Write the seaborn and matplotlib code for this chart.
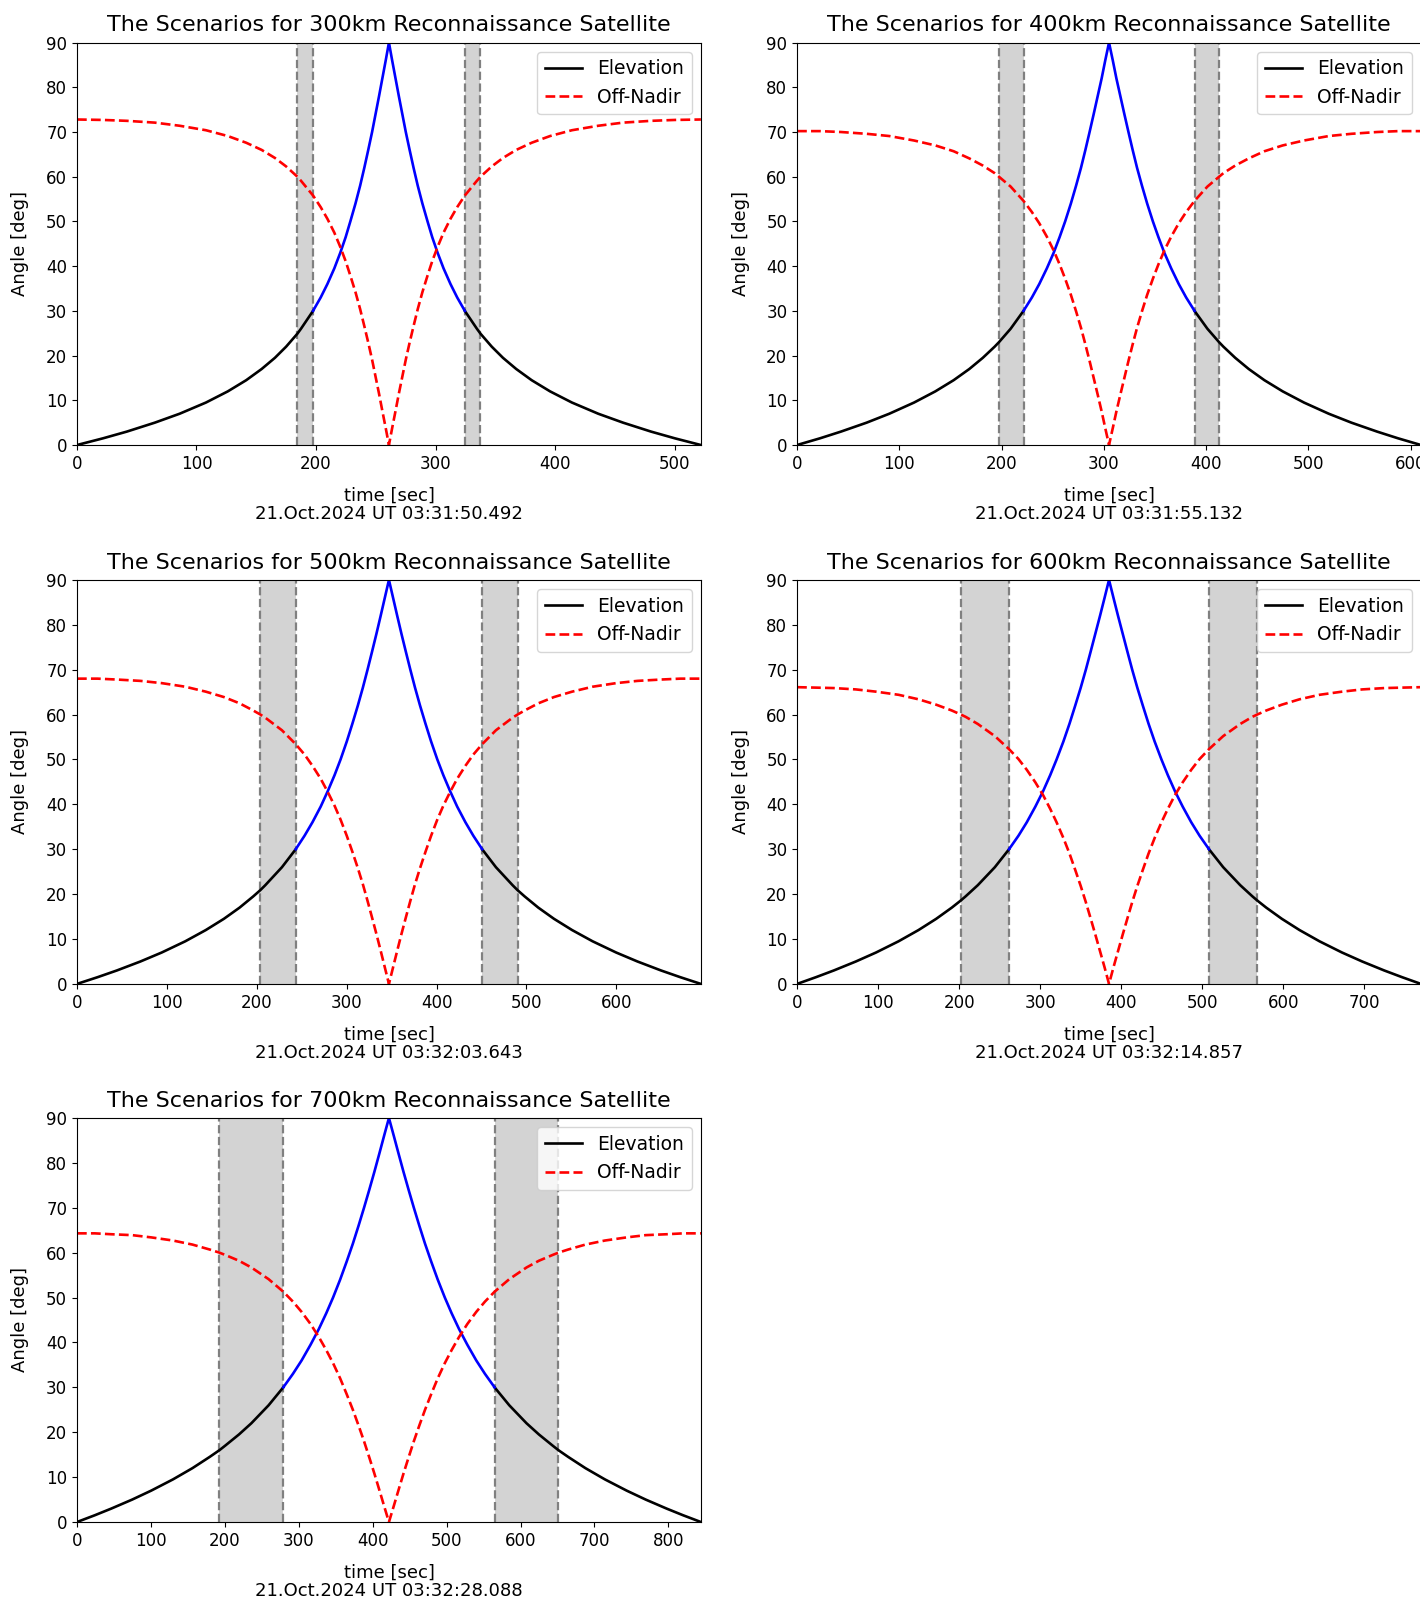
import numpy as np
import matplotlib
matplotlib.use("Agg")
import matplotlib.pyplot as plt
import seaborn as sns

# values (time [s], angle [deg])
altitudes = [300, 400, 500, 600, 700]
stamps = ["21.Oct.2024 UT 03:31:50.492", "21.Oct.2024 UT 03:31:55.132",
          "21.Oct.2024 UT 03:32:03.643", "21.Oct.2024 UT 03:32:14.857",
          "21.Oct.2024 UT 03:32:28.088"]

time_300 = [0, 21.8, 41.7, 65.1, 85.9, 107.9, 126.2, 141.6, 154.5, 165.6, 175.0, 184.4, 187.4, 197.5, 203.9,
            209.5, 215.3, 220.3, 224.8, 228.7, 233.0, 236.9, 240.4, 243.7, 246.9, 249.8, 252.7, 255.5, 258.3, 261,
            263.7, 266.5, 269.3, 272.2, 275.1, 278.3, 281.6, 285.1, 289.0, 293.3, 297.2, 301.7, 306.7, 312.5,
            318.1, 324.5, 334.6, 337.6, 347.0, 356.4, 367.5, 380.4, 395.8, 414.1, 436.1, 456.9, 480.3, 500.2, 522]
elev_300 = [0, 1.5, 3, 5, 7, 9.5, 12, 14.5, 17, 19.5, 22, 24.9, 26, 30, 33, 36, 39.5, 43, 46.5, 50, 54, 58, 62,
            66, 70, 74, 78, 82, 86, 90,
            86, 82, 78, 74, 70, 66, 62, 58, 54, 50, 46.5, 43, 39.5, 36, 33, 30, 26, 24.9, 22, 19.5, 17, 14.5, 12,
            9.5, 7, 5, 3, 1.5, 0]
offn_300 = [72.8, 72.7, 72.5, 72.1, 71.4, 70.4, 69.1, 67.6, 66.0, 64.2, 62.3, 60.0, 59.1, 55.8, 53.2, 50.6, 47.5,
            44.3, 41.1, 37.9, 34.2, 30.4, 26.6, 22.9, 19.1, 15.3, 11.5, 7.6, 3.8, 0,
            3.8, 7.6, 11.5, 15.3, 19.1, 22.9, 26.6, 30.4, 34.2, 37.9, 41.1, 44.3, 47.5, 50.6, 53.2, 55.8, 59.1,
            60.0, 62.3, 64.2, 66.0, 67.6, 69.1, 70.4, 71.4, 72.1, 72.5, 72.7, 72.8]
spans_300 = [(184.4, 197.5), (324.5, 337.6)]

time_400 = [0, 22.4, 42.9, 68.0, 90.2, 114.4, 135.2, 153.1, 168.4, 181.6, 193.2, 197.4, 208.8, 221.4, 229.6,
            236.8, 244.2, 250.9, 256.7, 262.1, 267.7, 272.8, 277.6, 281.9, 286.0, 290.0, 293.9, 297.8, 301.3, 305,
            308.7, 312.2, 316.1, 320.0, 324.0, 328.1, 332.4, 337.2, 342.3, 347.9, 353.3, 359.1, 365.8, 373.2,
            380.4, 388.6, 401.2, 412.6, 416.8, 428.4, 441.6, 456.9, 474.8, 495.6, 519.8, 542.0, 567.1, 587.6, 610]
elev_400 = [0, 1.5, 3, 5, 7, 9.5, 12, 14.5, 17, 19.5, 22, 23.0, 26, 30, 33, 36, 39.5, 43, 46.5, 50, 54, 58, 62,
            66, 70, 74, 78, 82, 86, 90,
            86, 82, 78, 74, 70, 66, 62, 58, 54, 50, 46.5, 43, 39.5, 36, 33, 30, 26, 23.0, 22, 19.5, 17, 14.5, 12,
            9.5, 7, 5, 3, 1.5, 0]
offn_400 = [70.2, 70.2, 70.0, 69.6, 69.1, 68.1, 67.0, 65.7, 64.1, 62.5, 60.8, 60.0, 57.8, 54.6, 52.1, 49.6, 46.6,
            43.5, 40.4, 37.2, 33.6, 29.9, 26.2, 22.5, 18.8, 15.0, 11.3, 7.5, 3.8, 0,
            3.8, 7.5, 11.3, 15.0, 18.8, 22.5, 26.2, 29.9, 33.6, 37.2, 40.4, 43.5, 46.6, 49.6, 52.1, 54.6, 57.8,
            60.0, 60.8, 62.5, 64.1, 65.7, 67.0, 68.1, 69.1, 69.6, 70.0, 70.2, 70.2]
spans_400 = [(197.4, 221.4), (388.6, 412.6)]

time_500 = [0, 22.9, 44.4, 70.6, 94.3, 120.5, 143.3, 163.4, 180.9, 196.1, 204.0, 209.5, 228.0, 243.3, 253.1,
            261.9, 271.1, 279.1, 286.5, 293.2, 300.1, 306.4, 312.4, 318.0, 323.2, 328.2, 333.1, 337.8, 342.4, 347,
            351.6, 356.2, 360.9, 365.8, 370.8, 376.0, 381.6, 387.6, 393.9, 400.8, 407.5, 414.9, 422.9, 432.1,
            440.9, 450.7, 466.0, 484.5, 490.0, 497.9, 513.1, 530.6, 550.7, 573.5, 599.7, 623.4, 649.6, 671.1, 694]
elev_500 = [0, 1.5, 3, 5, 7, 9.5, 12, 14.5, 17, 19.5, 20.9, 22, 26, 30, 33, 36, 39.5, 43, 46.5, 50, 54, 58, 62,
            66, 70, 74, 78, 82, 86, 90,
            86, 82, 78, 74, 70, 66, 62, 58, 54, 50, 46.5, 43, 39.5, 36, 33, 30, 26, 22, 20.9, 19.5, 17, 14.5, 12,
            9.5, 7, 5, 3, 1.5, 0]
offn_500 = [68.0, 68.0, 67.8, 67.5, 67.0, 66.2, 65.1, 63.9, 62.5, 60.9, 60.0, 59.3, 56.5, 53.4, 51.1, 48.6, 45.7,
            42.7, 39.7, 36.6, 33.0, 29.4, 25.8, 22.2, 18.5, 14.8, 11.1, 7.4, 3.7, 0,
            3.7, 7.4, 11.1, 14.8, 18.5, 22.2, 25.8, 29.4, 33.0, 36.6, 39.7, 42.7, 45.7, 48.6, 51.1, 53.4, 56.5,
            59.3, 60.0, 60.9, 62.5, 63.9, 65.1, 66.2, 67.0, 67.5, 67.8, 68.0, 68.0]
spans_500 = [(204.0, 243.3), (450.7, 490.0)]

time_600 = [0, 23.3, 45.4, 72.6, 97.5, 125.3, 149.9, 171.7, 191.0, 202.2, 208.0, 223.1, 244.1, 261.6, 273.2,
            283.5, 294.1, 303.8, 312.4, 320.3, 328.7, 336.3, 343.3, 350.1, 356.4, 362.3, 368.1, 373.9, 379.5, 385,
            390.5, 396.1, 401.9, 407.7, 413.6, 419.9, 426.7, 433.7, 441.3, 449.7, 457.6, 466.2, 475.9, 486.5,
            496.8, 508.4, 525.9, 546.9, 562.0, 567.8, 579.0, 598.3, 620.1, 644.7, 672.5, 697.4, 724.6, 746.7, 770]
elev_600 = [0, 1.5, 3, 5, 7, 9.5, 12, 14.5, 17, 18.6, 19.5, 22, 26, 30, 33, 36, 39.5, 43, 46.5, 50, 54, 58, 62,
            66, 70, 74, 78, 82, 86, 90,
            86, 82, 78, 74, 70, 66, 62, 58, 54, 50, 46.5, 43, 39.5, 36, 33, 30, 26, 22, 19.5, 18.6, 17, 14.5, 12,
            9.5, 7, 5, 3, 1.5, 0]
offn_600 = [66.1, 66.0, 65.9, 65.6, 65.1, 64.4, 63.4, 62.2, 60.9, 60.0, 59.5, 57.9, 55.2, 52.3, 50.1, 47.7, 44.9,
            42.0, 39.0, 36.0, 32.5, 29.0, 25.4, 21.8, 18.2, 14.6, 11.0, 7.3, 3.7, 0,
            3.7, 7.3, 11.0, 14.6, 18.2, 21.8, 25.4, 29.0, 32.5, 36.0, 39.0, 42.0, 44.9, 47.7, 50.1, 52.3, 55.2,
            57.9, 59.5, 60.0, 60.9, 62.2, 63.4, 64.4, 65.1, 65.6, 65.9, 66.0, 66.1]
spans_600 = [(202.2, 261.6), (508.4, 567.8)]

time_700 = [0, 24.0, 46.5, 74.7, 100.5, 129.9, 156.2, 179.5, 192.7, 200.4, 219.1, 235.9, 259.2, 279.1, 292.1,
            303.9, 316.0, 327.2, 337.2, 346.4, 356.0, 364.8, 373.2, 380.9, 388.3, 395.4, 402.3, 408.9, 415.4, 422,
            428.6, 435.1, 441.7, 448.6, 455.7, 463.1, 470.8, 479.2, 488.0, 497.6, 506.8, 516.8, 528.0, 540.1,
            551.9, 564.9, 584.8, 608.1, 624.9, 643.6, 651.3, 664.5, 687.8, 714.1, 743.5, 769.3, 797.5, 820.0, 844]
elev_700 = [0, 1.5, 3, 5, 7, 9.5, 12, 14.5, 16.0, 17, 19.5, 22, 26, 30, 33, 36, 39.5, 43, 46.5, 50, 54, 58, 62,
            66, 70, 74, 78, 82, 86, 90,
            86, 82, 78, 74, 70, 66, 62, 58, 54, 50, 46.5, 43, 39.5, 36, 33, 30, 26, 22, 19.5, 17, 16.0, 14.5, 12,
            9.5, 7, 5, 3, 1.5, 0]
offn_700 = [64.3, 64.3, 64.1, 63.9, 63.4, 62.7, 61.8, 60.7, 60.0, 59.5, 58.2, 56.7, 54.1, 51.3, 49.1, 46.8, 44.1,
            41.2, 38.3, 35.4, 32.0, 28.5, 25.0, 21.5, 18.0, 14.4, 10.8, 7.2, 3.6, 0,
            3.6, 7.2, 10.8, 14.4, 18.0, 21.5, 25.0, 28.5, 32.0, 35.4, 38.3, 41.2, 44.1, 46.8, 49.1, 51.3, 54.1,
            56.7, 58.2, 59.5, 60.0, 60.7, 61.8, 62.7, 63.4, 63.9, 64.1, 64.3, 64.3]
spans_700 = [(192.7, 279.1), (564.9, 651.3)]

panels = [(time_300, elev_300, offn_300, spans_300),
          (time_400, elev_400, offn_400, spans_400),
          (time_500, elev_500, offn_500, spans_500),
          (time_600, elev_600, offn_600, spans_600),
          (time_700, elev_700, offn_700, spans_700)]

# axes boxes in figure fractions (left, bottom, width, height)
boxes = [(0.0542, 0.7241, 0.4394, 0.2495), (0.5613, 0.7241, 0.4394, 0.2495),
         (0.0542, 0.3900, 0.4394, 0.2505), (0.5613, 0.3900, 0.4394, 0.2505),
         (0.0542, 0.0564, 0.4394, 0.2505)]

plt.rcParams['font.family'] = ['DejaVu Sans']
fig = plt.figure(figsize=(14.2, 16.13), dpi=100)

for i, (t, el, on, spans) in enumerate(panels):
    ax = fig.add_axes(boxes[i])
    t = np.array(t)
    el = np.array(el)
    on = np.array(on)
    peak = np.argmax(el)

    # visibility windows
    for a, b in spans:
        ax.axvspan(a, b, color='lightgray', zorder=0, lw=0)
        ax.axvline(a, color='gray', ls='--', lw=1.6, zorder=1)
        ax.axvline(b, color='gray', ls='--', lw=1.6, zorder=1)

    idx = np.arange(len(t))
    low_l = (el <= 30) & (idx <= peak)
    low_r = (el <= 30) & (idx >= peak)
    high = el >= 30
    sns.lineplot(x=t[low_l], y=el[low_l], ax=ax, color='black', lw=1.9,
                 label='Elevation', sort=False, estimator=None)
    sns.lineplot(x=t[low_r], y=el[low_r], ax=ax, color='black', lw=1.9,
                 sort=False, estimator=None)
    sns.lineplot(x=t[high], y=el[high], ax=ax, color='blue', lw=1.9,
                 sort=False, estimator=None)
    sns.lineplot(x=t, y=on, ax=ax, color='red', lw=1.9, linestyle='--',
                 label='Off-Nadir', sort=False, estimator=None)

    ax.set_xlim(t[0], t[-1])
    ax.set_ylim(0, 90)
    ax.set_yticks(range(0, 91, 10))
    ax.tick_params(labelsize=12)
    ax.set_title(f"The Scenarios for {altitudes[i]}km Reconnaissance Satellite", fontsize=16, pad=8)
    ax.set_xlabel(f"time [sec]\n{stamps[i]}", fontsize=13, linespacing=1.0, labelpad=10)
    ax.set_ylabel("Angle [deg]", fontsize=13, labelpad=12)
    ax.legend(loc='upper right', fontsize=13.5)

fig.savefig("out.png", dpi=100)
